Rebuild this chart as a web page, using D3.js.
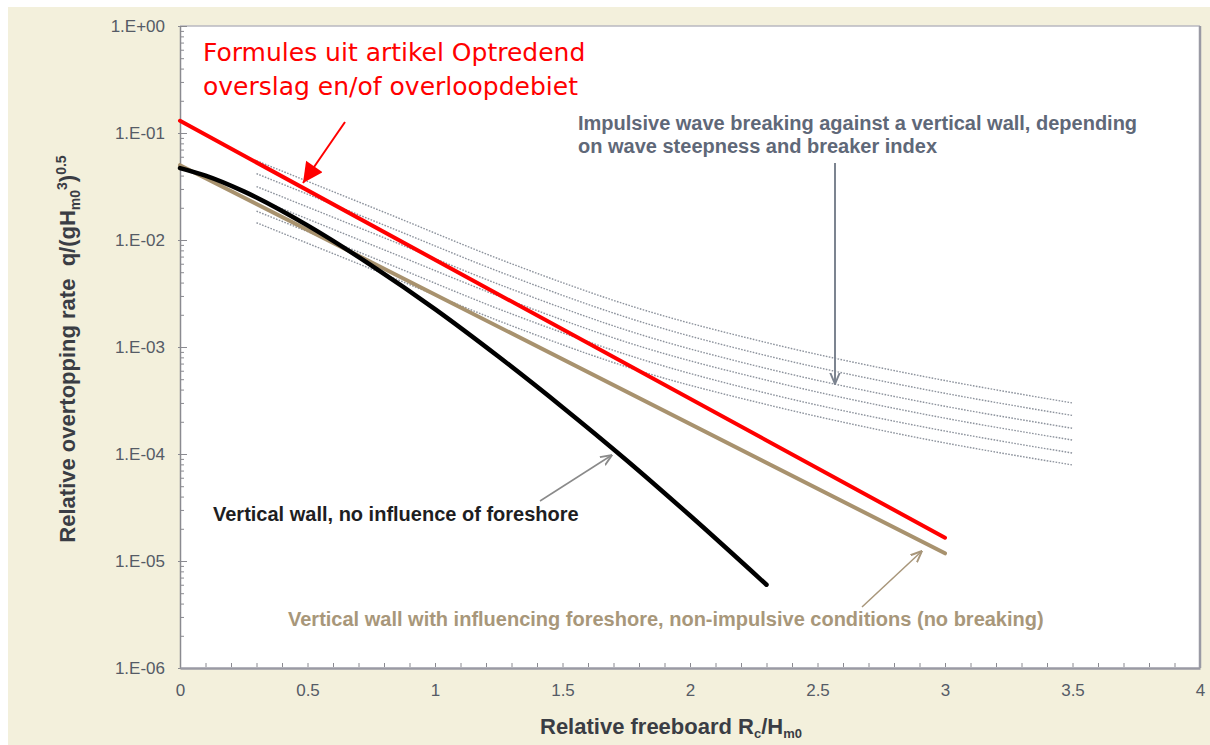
<!DOCTYPE html>
<html>
<head>
<meta charset="utf-8">
<script src="https://cdn.jsdelivr.net/npm/d3@7/dist/d3.min.js"></script>
<style>
  html, body { margin: 0; padding: 0; background: #ffffff; }
  svg { display: block; }
  .tick-label { font-family: "Liberation Sans", Arial, sans-serif; font-size: 17px; fill: #555b66; }
  .title { font-family: "Liberation Sans", Arial, sans-serif; font-size: 22px; font-weight: bold; fill: #3a3d44; }
  .note { font-family: "Liberation Sans", Arial, sans-serif; font-size: 20px; font-weight: bold; }
</style>
</head>
<body>
<div id="chart"></div>
<script>
/* DATA */
var xTicks = [0, 0.5, 1, 1.5, 2, 2.5, 3, 3.5, 4];
var yTicks = [1e0, 1e-1, 1e-2, 1e-3, 1e-4, 1e-5, 1e-6];
var yTickLabels = ['1.E+00', '1.E-01', '1.E-02', '1.E-03', '1.E-04', '1.E-05', '1.E-06'];

// red line: formules uit artikel
var redX = [0, 3];
var redY = [0.13, 1.65e-5];

// brown line: vertical wall with influencing foreshore
var brownX = [0, 3];
var brownY = [0.05, 1.18e-5];

// black curve: vertical wall, no influence of foreshore
var blackX = [0, 0.1, 0.25, 0.5, 0.75, 1.0, 1.25, 1.5, 1.75, 2.0, 2.3];
var blackY = [0.047, 0.040, 0.0285, 0.0137, 0.0058, 0.00226, 8.1e-4, 2.74e-4, 8.8e-5, 2.66e-5, 6.0e-6];

// dotted lines: impulsive wave breaking
var impX = [0.3, 0.8, 1.3, 1.8, 2.3, 2.9, 3.5];
var imp1 = [0.055, 0.0182, 6.0e-3, 2.29e-3, 1.10e-3, 5.4e-4, 3.0e-4];
var imp2 = [0.0417, 0.0138, 4.57e-3, 1.74e-3, 8.3e-4, 4.1e-4, 2.29e-4];
var imp3 = [0.0316, 0.0105, 3.47e-3, 1.32e-3, 6.3e-4, 3.1e-4, 1.74e-4];
var imp4 = [0.0245, 8.1e-3, 2.69e-3, 1.02e-3, 4.9e-4, 2.4e-4, 1.35e-4];
var imp5 = [0.0186, 6.2e-3, 2.04e-3, 7.8e-4, 3.7e-4, 1.82e-4, 1.02e-4];
var imp6 = [0.0145, 4.8e-3, 1.58e-3, 6.0e-4, 2.9e-4, 1.41e-4, 7.9e-5];

/* LAYOUT */
var W = 1210, H = 745;
var plotLeft = 180, plotRight = 1200, plotTop = 26, plotBottom = 668;

var svg = d3.select('#chart').append('svg').attr('width', W).attr('height', H);

var x = d3.scaleLinear().domain([0, 4]).range([plotLeft, plotRight]);
var y = d3.scaleLog().domain([1e-6, 1]).range([plotBottom, plotTop]);

/* BACKGROUND */
svg.append('rect').attr('x', 8).attr('y', 7).attr('width', W - 8).attr('height', H - 7).attr('fill', '#f3f0dc');
svg.append('rect').attr('x', plotLeft).attr('y', plotTop)
  .attr('width', plotRight - plotLeft).attr('height', plotBottom - plotTop)
  .attr('fill', '#ffffff');
// frame top / right
svg.append('line').attr('x1', plotLeft).attr('y1', plotTop).attr('x2', plotRight).attr('y2', plotTop)
  .attr('stroke', '#b8b8c0').attr('stroke-width', 1.5);
svg.append('line').attr('x1', plotRight).attr('y1', plotTop).attr('x2', plotRight).attr('y2', plotBottom)
  .attr('stroke', '#9a9aa4').attr('stroke-width', 2.5);

/* MARKERS */
var defs = svg.append('defs');
defs.append('marker').attr('id', 'head-red')
  .attr('viewBox', '0 0 10 10').attr('refX', 10).attr('refY', 5)
  .attr('markerUnits', 'userSpaceOnUse').attr('markerWidth', 22).attr('markerHeight', 20)
  .attr('orient', 'auto')
  .append('path').attr('d', 'M0,0 L10,5 L0,10 z').attr('fill', '#ff0000');
function openHead(id, color) {
  defs.append('marker').attr('id', id)
    .attr('viewBox', '0 0 10 10').attr('refX', 9.5).attr('refY', 5)
    .attr('markerUnits', 'userSpaceOnUse').attr('markerWidth', 12).attr('markerHeight', 12)
    .attr('orient', 'auto')
    .append('path').attr('d', 'M0,1 L9.5,5 L0,9').attr('fill', 'none')
    .attr('stroke', color).attr('stroke-width', 1.6);
}
openHead('head-slate', '#7c8490');
openHead('head-grey', '#8a8a8a');
openHead('head-brown', '#a8967a');

/* AXES */
var yAxis = svg.append('g').attr('transform', 'translate(' + plotLeft + ',0)')
  .call(d3.axisLeft(y).tickValues(yTicks).tickSize(0).tickPadding(15)
    .tickFormat(function(d, i) { return yTickLabels[i]; }));
yAxis.select('.domain').attr('stroke', '#8a8a90').attr('stroke-width', 1.5);
yAxis.selectAll('text').attr('class', 'tick-label').attr('font-size', null).attr('font-family', null);

// minor and major ticks on y (pointing into the plot)
var yMinor = [];
for (var e = -6; e < 0; e++) {
  for (var m = 2; m <= 9; m++) { yMinor.push(m * Math.pow(10, e)); }
}
svg.append('g').attr('transform', 'translate(' + plotLeft + ',0)')
  .call(d3.axisRight(y).tickValues(yMinor).tickSize(4).tickFormat(''))
  .call(function(g) { g.select('.domain').remove(); g.selectAll('line').attr('stroke', '#8a8a90'); });
svg.append('g').attr('transform', 'translate(' + (plotLeft - 2) + ',0)')
  .call(d3.axisRight(y).tickValues(yTicks).tickSize(9).tickFormat(''))
  .call(function(g) { g.select('.domain').remove(); g.selectAll('line').attr('stroke', '#8a8a90'); });

var xAxis = svg.append('g').attr('transform', 'translate(0,' + plotBottom + ')')
  .call(d3.axisBottom(x).tickValues(xTicks).tickSize(0).tickPadding(16).tickFormat(d3.format('')));
xAxis.select('.domain').attr('stroke', '#9a9aa4').attr('stroke-width', 2.5);
xAxis.selectAll('text').attr('class', 'tick-label').attr('font-size', null).attr('font-family', null);

svg.append('g').attr('transform', 'translate(0,' + (plotBottom - 1) + ')')
  .call(d3.axisTop(x).tickValues(d3.range(1, 40).map(function(d) { return d / 10; })).tickSize(4).tickFormat(''))
  .call(function(g) { g.select('.domain').remove(); g.selectAll('line').attr('stroke', '#8a8a90'); });

/* AXIS TITLES */
var xt = svg.append('text').attr('class', 'title').attr('x', 671).attr('y', 734).attr('text-anchor', 'middle');
xt.append('tspan').text('Relative freeboard R');
xt.append('tspan').attr('font-size', '13px').attr('dy', 4).text('c');
xt.append('tspan').attr('dy', -4).text('/H');
xt.append('tspan').attr('font-size', '13px').attr('dy', 4).text('m0');

var yt = svg.append('text').attr('class', 'title').attr('text-anchor', 'middle')
  .attr('transform', 'translate(75,349) rotate(-90)').style('white-space', 'pre');
yt.append('tspan').text('Relative overtopping rate  q/(gH');
yt.append('tspan').attr('font-size', '14px').attr('dy', 5).text('m0');
yt.append('tspan').attr('font-size', '14px').attr('dy', -13).text('3');
yt.append('tspan').attr('dy', 8).text(')');
yt.append('tspan').attr('font-size', '14px').attr('dy', -9).text('0.5');

/* SERIES */
function pts(xs, ys) { return xs.map(function(v, i) { return [v, ys[i]]; }); }
var line = d3.line().x(function(d) { return x(d[0]); }).y(function(d) { return y(d[1]); })
  .curve(d3.curveMonotoneX);

[imp1, imp2, imp3, imp4, imp5, imp6].forEach(function(s) {
  svg.append('path').datum(pts(impX, s)).attr('d', line)
    .attr('fill', 'none').attr('stroke', '#8d939d').attr('stroke-width', 1.4)
    .attr('stroke-dasharray', '1.6,1.4');
});

svg.append('path').datum(pts(brownX, brownY)).attr('d', line)
  .attr('fill', 'none').attr('stroke', '#a8926e').attr('stroke-width', 4).attr('stroke-linecap', 'round');
svg.append('path').datum(pts(blackX, blackY)).attr('d', line)
  .attr('fill', 'none').attr('stroke', '#000000').attr('stroke-width', 4.5).attr('stroke-linecap', 'round');
svg.append('path').datum(pts(redX, redY)).attr('d', line)
  .attr('fill', 'none').attr('stroke', '#ff0000').attr('stroke-width', 4).attr('stroke-linecap', 'round');

/* ANNOTATIONS */
var redNote = svg.append('text').attr('font-family', '"DejaVu Sans", Verdana, sans-serif')
  .attr('font-size', '25px').attr('fill', '#ff0000');
redNote.append('tspan').attr('x', 203).attr('y', 61).text('Formules uit artikel Optredend');
redNote.append('tspan').attr('x', 203).attr('y', 95).text('overslag en/of overloopdebiet');
svg.append('line').attr('x1', 345).attr('y1', 122).attr('x2', 303).attr('y2', 183)
  .attr('stroke', '#ff0000').attr('stroke-width', 2).attr('marker-end', 'url(#head-red)');

var impNote = svg.append('text').attr('class', 'note').attr('fill', '#5f6878');
impNote.append('tspan').attr('x', 578).attr('y', 130).text('Impulsive wave breaking against a vertical wall, depending');
impNote.append('tspan').attr('x', 578).attr('y', 153).text('on wave steepness and breaker index');
svg.append('line').attr('x1', 835).attr('y1', 163).attr('x2', 835).attr('y2', 384)
  .attr('stroke', '#7c8490').attr('stroke-width', 2).attr('marker-end', 'url(#head-slate)');

svg.append('text').attr('class', 'note').attr('fill', '#1e1e22').attr('x', 213).attr('y', 521)
  .text('Vertical wall, no influence of foreshore');
svg.append('line').attr('x1', 540).attr('y1', 501).attr('x2', 612).attr('y2', 455)
  .attr('stroke', '#8a8a8a').attr('stroke-width', 1.5).attr('marker-end', 'url(#head-grey)');

svg.append('text').attr('class', 'note').attr('fill', '#a8977a').attr('x', 288).attr('y', 626)
  .text('Vertical wall with influencing foreshore, non-impulsive conditions (no breaking)');
svg.append('line').attr('x1', 862).attr('y1', 607).attr('x2', 922).attr('y2', 551)
  .attr('stroke', '#a8967a').attr('stroke-width', 1.5).attr('marker-end', 'url(#head-brown)');
</script>
</body>
</html>
